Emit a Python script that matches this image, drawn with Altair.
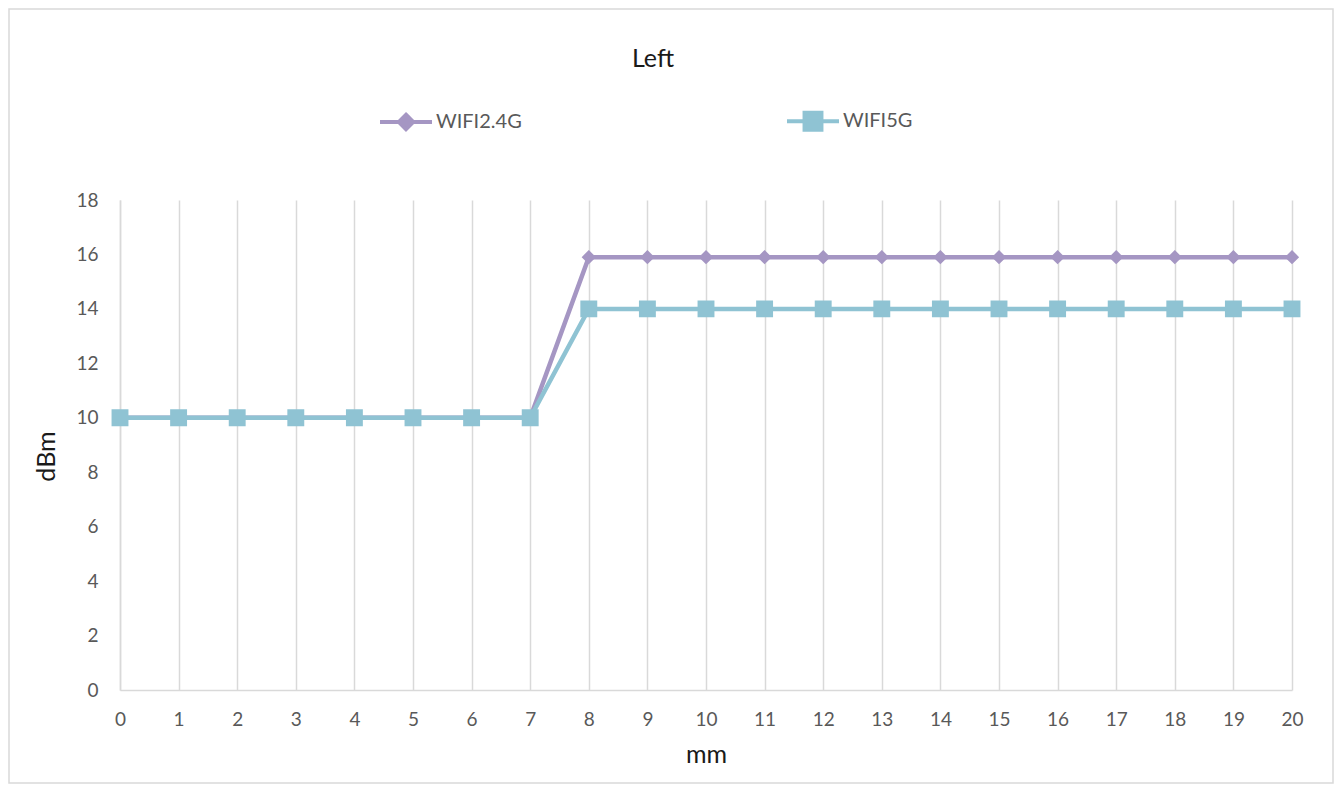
import altair as alt
import pandas as pd

mm = [0, 1, 2, 3, 4, 5, 6, 7, 8, 9, 10, 11, 12, 13, 14, 15, 16, 17, 18, 19, 20]
wifi24 = [10, 10, 10, 10, 10, 10, 10, 10, 15.9, 15.9, 15.9, 15.9, 15.9, 15.9, 15.9, 15.9, 15.9, 15.9, 15.9, 15.9, 15.9]
wifi5 = [10, 10, 10, 10, 10, 10, 10, 10, 14, 14, 14, 14, 14, 14, 14, 14, 14, 14, 14, 14, 14]
series = ["WIFI2.4G", "WIFI5G"]
colors = ["#A596C3", "#8FC3D3"]
y_ticks = [0, 2, 4, 6, 8, 10, 12, 14, 16, 18]

rows = []
for i, x in enumerate(mm):
    rows.append({"mm": x, "dBm": wifi24[i], "series": series[0], "o": 0})
for i, x in enumerate(mm):
    rows.append({"mm": x, "dBm": wifi5[i], "series": series[1], "o": 1})
df = pd.DataFrame(rows)

FONT = "Lato"
GRID = "#D9D9D9"
SYM = 676  # marker size shared by plot points and legend symbols

# custom marker paths: a horizontal stroke (only visible when stroked, i.e. in the legend)
# plus a filled diamond / square
DIAMOND = "M-2,0L2,0M0,-0.55L0.55,0L0,0.55L-0.55,0Z"
SQUARE = "M-2,0L2,0M-0.65,-0.65L0.65,-0.65L0.65,0.65L-0.65,0.65Z"

color_scale = alt.Scale(domain=series, range=colors)

x_enc = alt.X(
    "mm:Q",
    scale=alt.Scale(domain=[0, 20], nice=False, zero=False),
    axis=alt.Axis(
        values=mm, format="d", title="mm", grid=True, gridColor=GRID, gridWidth=1.5,
        ticks=False, domainColor=GRID, domainWidth=1.5, labelFlush=False,
        labelFont=FONT, labelFontSize=19, labelColor="#595959", labelPadding=20,
        titleFont=FONT, titleFontSize=25, titleFontWeight="normal", titleColor="#1a1a1a",
        titleY=64, titleBaseline="middle",
    ),
)
y_enc = alt.Y(
    "dBm:Q",
    scale=alt.Scale(domain=[0, 18], nice=False),
    axis=alt.Axis(
        values=y_ticks, title="dBm", grid=False, ticks=False,
        domainColor=GRID, domainWidth=1.5,
        labelFont=FONT, labelFontSize=19, labelColor="#595959", labelPadding=22,
        titleFont=FONT, titleFontSize=25, titleFontWeight="normal", titleColor="#1a1a1a",
        titleX=-74, titleY=256, titleBaseline="middle", titleAngle=270,
    ),
)

legend = alt.Legend(
    title=None, orient="none", legendX=271, legendY=-94,
    direction="horizontal", symbolSize=SYM, symbolStrokeWidth=4,
    labelFont=FONT, labelFontSize=20, labelColor="#595959",
    labelOffset=15, columnPadding=257, symbolOpacity=1,
)

lines = alt.Chart(df).mark_line(strokeWidth=4.5).encode(
    x=x_enc,
    y=y_enc,
    color=alt.Color("series:N", scale=color_scale, legend=legend),
    order=alt.Order("mm:Q"),
)

points = alt.Chart(df).mark_point(filled=True, opacity=1, strokeWidth=0, size=SYM).encode(
    x="mm:Q",
    y="dBm:Q",
    color=alt.Color("series:N", scale=color_scale, legend=legend),
    shape=alt.Shape("series:N", scale=alt.Scale(domain=series, range=[DIAMOND, SQUARE]), legend=legend),
    order=alt.Order("o:Q"),
)

frame = alt.Chart(alt.Data(values=[{}])).mark_rect(
    fill="transparent", stroke=GRID, strokeWidth=1.5
).encode(
    x=alt.value(-111), x2=alt.value(1213), y=alt.value(-191), y2=alt.value(583)
)

chart = alt.layer(frame, lines, points).properties(
    width=1172,
    height=490,
    autosize=alt.AutoSizeParams(type="none"),
    padding={"left": 112, "top": 192, "right": 42, "bottom": 94},
    title=alt.TitleParams(
        "Left", font=FONT, fontSize=25, fontWeight="normal", color="#1a1a1a",
        anchor="middle", dx=-53, dy=64, offset=0,
    ),
).configure_view(stroke=None)

chart.save("out.html", embed_options={"renderer": "svg", "actions": False})
